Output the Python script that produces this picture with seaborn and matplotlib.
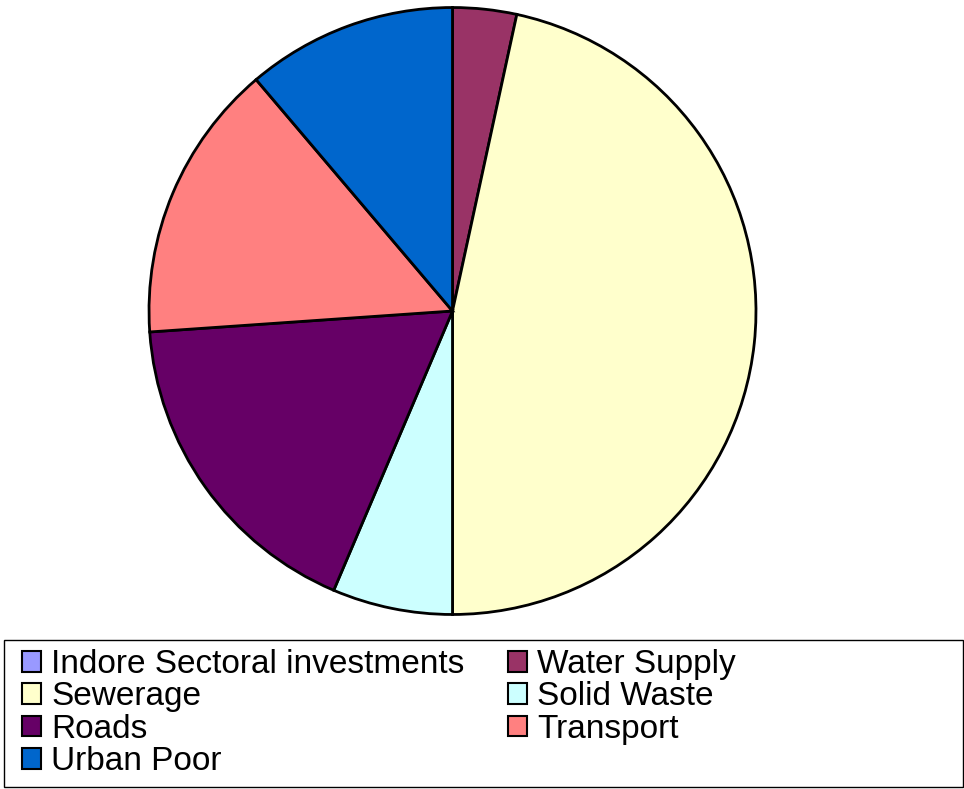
import matplotlib
matplotlib.use("Agg")
import matplotlib.pyplot as plt
import seaborn as sns
from matplotlib.patches import Rectangle

sns.set_theme(style="white")
plt.rcParams['font.family'] = ['Liberation Sans', 'DejaVu Sans']
plt.rcParams['text.color'] = 'black'

categories = ["Indore Sectoral investments", "Water Supply", "Sewerage", "Solid Waste",
              "Roads", "Transport", "Urban Poor"]
values = [0.0, 3.4, 46.6, 6.4, 17.5, 14.9, 11.2]
colors = ["#9999FF", "#993366", "#FFFFCC", "#CCFFFF", "#660066", "#FF8080", "#0066CC"]

W, H = 964, 789
fig = plt.figure(figsize=(W / 100, H / 100), dpi=100)
fig.patch.set_facecolor("white")

cx, cy, r = 452.5, 311, 305
ax = fig.add_axes([(cx - r) / W, (H - cy - r) / H, 2 * r / W, 2 * r / H])
wedges, _ = ax.pie(values, colors=colors, startangle=90, counterclock=False,
                   radius=1, wedgeprops=dict(edgecolor="black", linewidth=2.0))
ax.set_xlim(-1.005, 1.005)
ax.set_ylim(-1.005, 1.005)
ax.set_aspect("equal")
ax.axis("off")

# legend frame
fig.patches.append(Rectangle((4 / W, (H - 787) / H), 959 / W, 147 / H,
                             transform=fig.transFigure, fill=False,
                             edgecolor="black", linewidth=1.0))

# row-wise order in a 2-column legend (matplotlib fills column by column)
order = [0, 2, 4, 6, 1, 3, 5]
leg = fig.legend([wedges[i] for i in order], [categories[i] for i in order],
                 ncol=2, loc="upper left", bbox_to_anchor=(22 / W, (H - 649) / H),
                 frameon=False, fontsize=24, handlelength=0.58, handleheight=0.58,
                 handletextpad=0.3, labelspacing=0.04, columnspacing=1.3,
                 borderpad=0, borderaxespad=0)
for h in leg.legend_handles:
    h.set_linewidth(1.5)
for t in leg.get_texts():
    t.set_color("black")

fig.savefig("out.png", dpi=100, facecolor="white")
